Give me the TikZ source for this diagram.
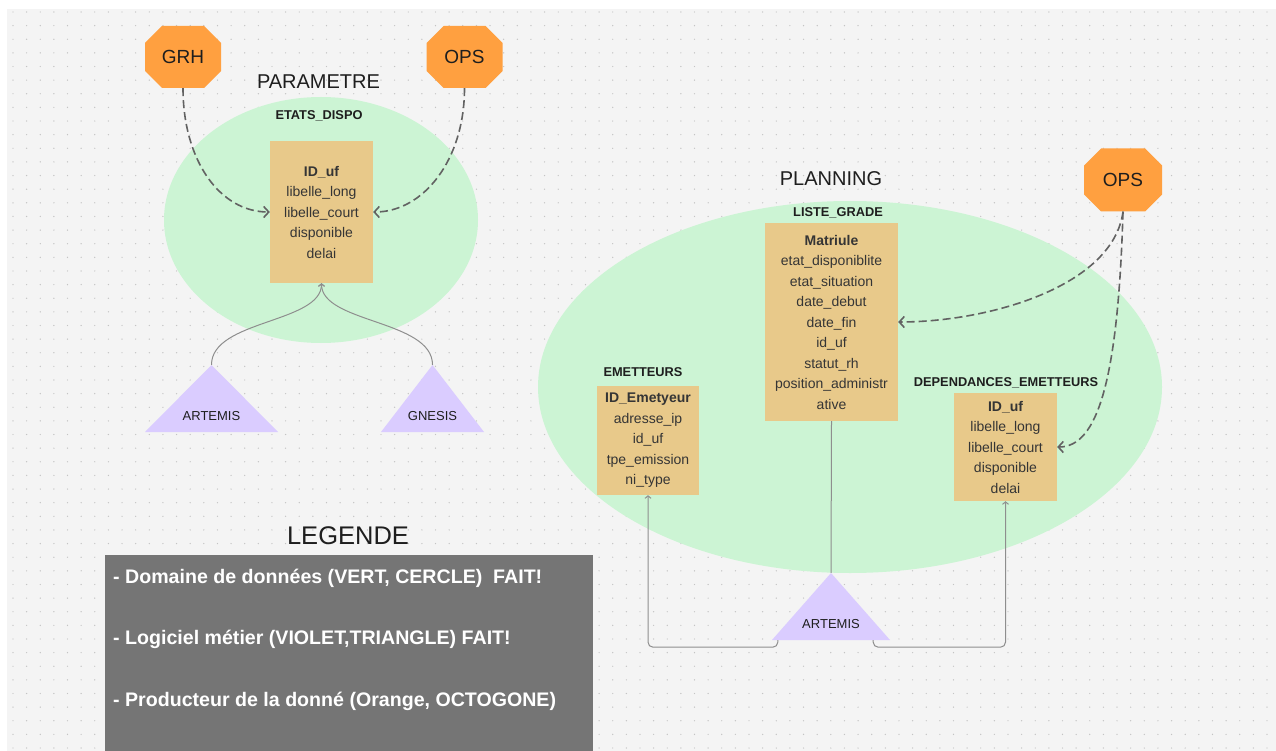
\documentclass[tikz,border=0pt]{standalone}
\usepackage{fontspec}
\setmainfont{Liberation Sans}
\usetikzlibrary{shapes.geometric,arrows.meta}
\definecolor{fond}{HTML}{F4F4F4}
\definecolor{pointgris}{HTML}{C4C4C4}
\definecolor{domvert}{HTML}{CCF4D4}
\definecolor{tablecol}{HTML}{E8C98A}
\definecolor{prodorange}{HTML}{FFA040}
\definecolor{logviolet}{HTML}{DACCFF}
\definecolor{legendgris}{HTML}{757575}
\definecolor{liengris}{HTML}{8E8E8E}
\definecolor{tiret}{HTML}{626262}
\definecolor{encre}{HTML}{1E1E1E}

\begin{document}
\begin{tikzpicture}[x=1pt, y=-1pt,
      every node/.style = {text=encre, inner sep=0pt},
      domaine/.style = {ellipse, fill=domvert},
      titre/.style = {font=\fontsize{20}{24}\selectfont},
      nomtable/.style = {font=\bfseries\fontsize{12.8}{15}\selectfont},
      tablebox/.style = {fill=tablecol, align=center, text=encre!90,
        font=\fontsize{14}{20.5}\selectfont},
      producteur/.style = {minimum width=76pt, minimum height=62pt,
        font=\fontsize{19}{21}\selectfont,
        path picture={\fill[prodorange]
          ([xshift=17pt]path picture bounding box.south west) --
          ([xshift=-17pt]path picture bounding box.south east) --
          ([yshift=17pt]path picture bounding box.south east) --
          ([yshift=-17pt]path picture bounding box.north east) --
          ([xshift=-17pt]path picture bounding box.north east) --
          ([xshift=17pt]path picture bounding box.north west) --
          ([yshift=-17pt]path picture bounding box.north west) --
          ([yshift=17pt]path picture bounding box.south west) -- cycle;}},
      logiciel/.style = {minimum height=67pt, text height=43pt, text depth=0pt,
        font=\fontsize{13}{15}\selectfont,
        path picture={\fill[logviolet]
          (path picture bounding box.south west) --
          (path picture bounding box.south east) --
          (path picture bounding box.north) -- cycle;}},
      lien/.style = {draw=liengris, line width=1pt},
      fleche/.style = {-{Straight Barb[length=2.5pt,width=6pt]}},
      flux/.style = {draw=tiret, line width=1.6pt, dash pattern=on 8pt off 4pt,
        -{Straight Barb[length=5pt,width=11pt]}},
      legtext/.style = {anchor=west, text=white,
        font=\bfseries\fontsize{19.6}{23}\selectfont}]
  \useasboundingbox (0,0) rectangle (1276,751);
  \fill[white] (0,0) rectangle (1276,751);
  \fill[fond] (7,9) rectangle (1276,751);
  \foreach \i in {0,...,93}
    \foreach \j in {0,...,54}
      \fill[pointgris] (13+13.63*\i, 12+13.63*\j) circle[radius=0.7];

  \node[domaine, minimum width=314pt, minimum height=246pt] (parametre) at (321,220) {};
  \node[domaine, minimum width=624pt, minimum height=372pt] (planning) at (850,387) {};

  \node[titre] (tparametre) at (318.5,82) {PARAMETRE};
  \node[titre] (tplanning) at (831,179) {PLANNING};
  \node[font=\fontsize{25.5}{30}\selectfont] (tlegende) at (348,536) {LEGENDE};

  \node[producteur] (grh) at (183,57) {GRH};
  \node[producteur] (opsp) at (464.5,57) {OPS};
  \node[producteur, minimum width=78pt, minimum height=63pt] (opsl) at (1123,180) {OPS};

  \node[nomtable] (tetats) at (319,116) {ETATS\_DISPO};
  \node[tablebox, minimum width=103pt, minimum height=142pt] (etats) at (321.5,212)
    {\textbf{ID\_uf}\\libelle\_long\\libelle\_court\\disponible\\delai};
  \node[nomtable] (tliste) at (838,213) {LISTE\_GRADE};
  \node[tablebox, minimum width=133pt, minimum height=198pt] (liste) at (831.5,322)
    {\textbf{Matriule}\\etat\_disponiblite\\etat\_situation\\date\_debut\\date\_fin\\id\_uf\\statut\_rh\\position\_administr\\ative};
  \node[nomtable] (temet) at (643,372) {EMETTEURS};
  \node[tablebox, minimum width=102pt, minimum height=109pt] (emet) at (648,440.5)
    {\textbf{ID\_Emetyeur}\\adresse\_ip\\id\_uf\\tpe\_emission\\ni\_type};
  \node[nomtable] (tdep) at (1006,383) {DEPENDANCES\_EMETTEURS};
  \node[tablebox, minimum width=103pt, minimum height=108pt] (dep) at (1005.5,447)
    {\textbf{ID\_uf}\\libelle\_long\\libelle\_court\\disponible\\delai};

  \node[logiciel, minimum width=133pt] (artp) at (211.5,398.5) {ARTEMIS};
  \node[logiciel, minimum width=103pt] (gnesis) at (432.5,398.5) {GNESIS};
  \node[logiciel, minimum width=118pt] (artl) at (831,606.5) {ARTEMIS};

  \draw[flux] (grh.south) .. controls +(0,72) and +(-50,0) .. (etats.west);
  \draw[flux] (opsp.south) .. controls +(0,72) and +(50,0) .. (etats.east);
  \draw[flux] (opsl.south) .. controls +(-10,75) and +(90,0) .. (liste.east);
  \draw[flux] (opsl.south) .. controls +(-5,170) and +(40,0) .. (dep.east);

  \draw[lien, fleche] (artp.north) .. controls +(0,-45) and +(0,40) .. (etats.south);
  \draw[lien, fleche] (gnesis.north) .. controls +(0,-45) and +(0,40) .. (etats.south);
  \draw[lien] (liste.south) -- (artl.north);
  \draw[lien, fleche, rounded corners=5pt] ([xshift=6pt]artl.south west) -- ++(0,7) -| (emet.south);
  \draw[lien, fleche, rounded corners=5pt] ([xshift=-17pt]artl.south east) -- ++(0,7) -| (dep.south);

  \node[fill=legendgris, minimum width=488pt, minimum height=200pt, anchor=north west] (legende) at (105,555) {};
  \node[legtext] (leg1) at (113,578) {- Domaine de données (VERT, CERCLE)\ \ FAIT!};
  \node[legtext] (leg2) at (113,639) {- Logiciel métier (VIOLET,TRIANGLE) FAIT!};
  \node[legtext] (leg3) at (113,701) {- Producteur de la donné (Orange, OCTOGONE)};
\end{tikzpicture}
\end{document}
